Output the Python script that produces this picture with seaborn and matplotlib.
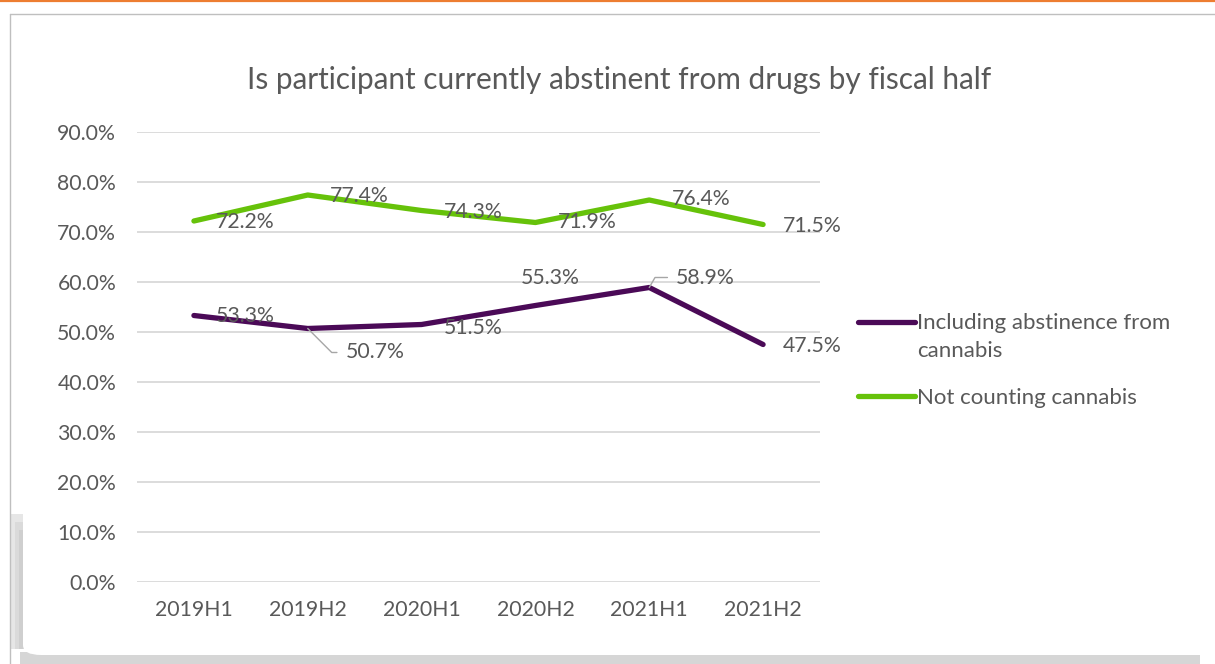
import matplotlib
matplotlib.use("Agg")
import matplotlib.pyplot as plt
from matplotlib.patches import Rectangle, FancyBboxPatch
from matplotlib.lines import Line2D
import seaborn as sns
import pandas as pd

# ---- data ----
periods = ["2019H1", "2019H2", "2020H1", "2020H2", "2021H1", "2021H2"]
including_cannabis = [0.533, 0.507, 0.515, 0.553, 0.589, 0.475]
not_counting_cannabis = [0.722, 0.774, 0.743, 0.719, 0.764, 0.715]
series_names = ["Including abstinence from\ncannabis", "Not counting cannabis"]
title = "Is participant currently abstinent from drugs by fiscal half"
yticks = [0.0, 0.1, 0.2, 0.3, 0.4, 0.5, 0.6, 0.7, 0.8, 0.9]

# ---- styling ----
colors = ["#4B0A57", "#66C20A"]
txt = "#595959"
W, H = 1215, 664
FS = 15.3

sns.set_theme(style="white")
plt.rcParams["font.family"] = ["Lato", "DejaVu Sans"]

df = pd.DataFrame({
    "period": periods * 2,
    "value": including_cannabis + not_counting_cannabis,
    "series": [series_names[0]] * len(periods) + [series_names[1]] * len(periods),
})

fig = plt.figure(figsize=(W / 100, H / 100), dpi=100)
fig.patch.set_facecolor("white")
ax = fig.add_axes([137 / W, 1 - 582 / H, (820 - 137) / W, (582 - 132) / H])
ax.patch.set_alpha(0)

sns.lineplot(data=df, x="period", y="value", hue="series", palette=colors,
             linewidth=3.8, sort=False, ax=ax, legend=True)

ax.set_xlim(-0.5, 5.5)
ax.set_ylim(0, 0.9)
ax.set_yticks(yticks)
ax.set_yticklabels([f"{v*100:.1f}%" for v in yticks])
ax.grid(axis="y", color="#D9D9D9", linewidth=1.3)
ax.set_axisbelow(True)
for s in ax.spines.values():
    s.set_visible(False)
ax.tick_params(axis="both", length=0, labelsize=FS, colors=txt)
ax.tick_params(axis="y", pad=15)
ax.tick_params(axis="x", pad=13)
ax.set_xlabel("")
ax.set_ylabel("")

# ---- data labels ----
green_offsets = [(22, -1), (22, -1), (22, -1), (22, 0), (23, 1), (20, -2)]
purple_offsets = [(22, 0), (38, -24), (22, -3), (-15, 28), (27, 10), (20, -2)]
leader_angles = [None, -45, None, None, 60, None]
for i, p in enumerate(periods):
    ax.annotate(f"{not_counting_cannabis[i]*100:.1f}%", (i, not_counting_cannabis[i]),
                xytext=green_offsets[i], textcoords="offset pixels",
                ha="left", va="center", fontsize=FS, color=txt)
    kw = {}
    if leader_angles[i] is not None:
        kw["arrowprops"] = dict(arrowstyle="-", color="#A6A6A6", lw=1.0,
                                shrinkA=4, shrinkB=0,
                                connectionstyle=f"angle,angleA=0,angleB={leader_angles[i]},rad=0")
    ax.annotate(f"{including_cannabis[i]*100:.1f}%", (i, including_cannabis[i]),
                xytext=purple_offsets[i], textcoords="offset pixels",
                ha="left", va="center", fontsize=FS, color=txt, **kw)

# ---- legend ----
LFS = 16
leg = ax.legend(loc="upper left", bbox_to_anchor=(858 / W, 1 - 313 / H),
                bbox_transform=fig.transFigure, frameon=False, fontsize=LFS,
                handlelength=2.55, handletextpad=0.12, labelspacing=1.23,
                borderaxespad=0, borderpad=0)
for t in leg.get_texts():
    t.set_color(txt)
    t.set_linespacing(1.48)
for j, h in enumerate(leg.legend_handles):
    h.set_linewidth(3.8)
    h.set_solid_capstyle("round")
    if j == 0:
        # align the handle with the first line of the two-line label
        y = h.get_ydata()
        h.set_ydata([v + 10.8 for v in y])

# ---- title ----
fig.text(619 / W, 1 - 80 / H, title, ha="center", va="center",
         fontsize=21.4, color=txt)

# ---- decorations (frame, shadow, orange rule) ----
fig.add_artist(Rectangle((20 / W, 0), 1180 / W, 12 / H, transform=fig.transFigure,
                         facecolor="#D6D6D6", edgecolor="none", zorder=-3))
for k, c in enumerate(["#E6E6E6", "#DADADA", "#CFCFCF"]):
    fig.add_artist(Rectangle(((11 + 4 * k) / W, 15 / H), (13 - 4 * k) / W, (135 - 8 * k) / H,
                             transform=fig.transFigure, facecolor=c,
                             edgecolor="none", zorder=-3))
fig.add_artist(FancyBboxPatch((23 / W, 9 / H), 1250 / W, (655 - 25) / H,
                              boxstyle="round,pad=0,rounding_size=0.015",
                              transform=fig.transFigure, facecolor="white",
                              edgecolor="none", zorder=-2))
fig.add_artist(Line2D([10 / W, 1], [1 - 14 / H, 1 - 14 / H], transform=fig.transFigure,
                      color="#BFBFBF", lw=1.0, zorder=-1))
fig.add_artist(Line2D([10 / W, 10 / W], [0, 1 - 14 / H], transform=fig.transFigure,
                      color="#BFBFBF", lw=1.0, zorder=-1))
fig.add_artist(Line2D([0, 1], [1 - 1 / H, 1 - 1 / H], transform=fig.transFigure,
                      color="#ED7D31", lw=1.6, zorder=5))

fig.savefig("out.png", dpi=100)
